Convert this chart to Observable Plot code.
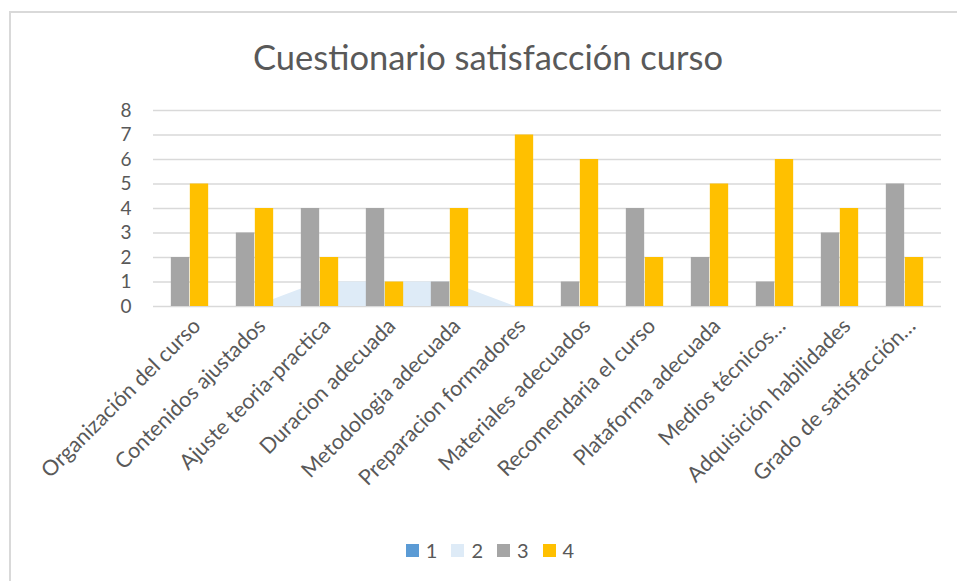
<!DOCTYPE html>
<html>
<head>
<meta charset="utf-8">
<script src="https://cdn.jsdelivr.net/npm/d3@7"></script>
<script src="https://cdn.jsdelivr.net/npm/@observablehq/plot@0.6"></script>
<style>
  body { margin: 0; background: #fff; }
  #wrap { position: relative; width: 957px; height: 581px; overflow: hidden; font-family: Lato, "Open Sans", sans-serif; color: #595959; }
  #frame { position: absolute; left: 9px; top: 11px; width: 980px; height: 620px; border-top: 2px solid #d9d9d9; border-left: 2px solid #d9d9d9; }
  #title { position: absolute; top: 36px; left: 0; width: 976px; text-align: center; font-size: 34.5px; line-height: 42px; }
  #chart { position: absolute; left: 0; top: 0; }
  #legend { position: absolute; top: 538px; left: 0; width: 980px; display: flex; justify-content: center; font-size: 20px; line-height: 24px; }
  .item { display: flex; align-items: center; margin: 0 7px; }
  .sw { width: 13px; height: 13px; margin-right: 7px; }
</style>
</head>
<body>
<div id="wrap">
  <div id="frame"></div>
  <div id="chart"></div>
  <div id="title">Cuestionario satisfacción curso</div>
  <div id="legend"></div>
</div>
<script>
const categories = [
  "Organización del curso",
  "Contenidos ajustados",
  "Ajuste teoria-practica",
  "Duracion adecuada",
  "Metodologia adecuada",
  "Preparacion formadores",
  "Materiales adecuados",
  "Recomendaria el curso",
  "Plataforma adecuada",
  "Medios técnicos…",
  "Adquisición habilidades",
  "Grado de satisfacción…"
];
const seriesNames = ["1", "2", "3", "4"];
const series1 = [0, 0, 0, 0, 0, 0, 0, 0, 0, 0, 0, 0];
const series2 = [0, 0, 1, 1, 1, 0, 0, 0, 0, 0, 0, 0];
const series3 = [2, 3, 4, 4, 1, 0, 1, 4, 2, 1, 3, 5];
const series4 = [5, 4, 2, 1, 4, 7, 6, 2, 5, 6, 4, 2];
const yTicks = [0, 1, 2, 3, 4, 5, 6, 7, 8];
const seriesColors = ["#5B9BD5", "#DEEBF7", "#A5A5A5", "#FFC000"];

const rows = (vals) => categories.map((c, i) => ({cat: c, v: vals[i]}));

const W = 957, ML = 153, MR = 16;
const bw = (W - ML - MR) / categories.length;
const barW = 19;

const chart = Plot.plot({
  width: W,
  height: 530,
  marginLeft: ML,
  marginRight: MR,
  marginTop: 110,
  marginBottom: 224,
  x: {type: "band", domain: categories, padding: 0, label: null},
  y: {domain: [0, 8], ticks: yTicks, label: null},
  style: {fontFamily: "Lato, 'Open Sans', sans-serif", color: "#595959", background: "transparent"},
  marks: [
    Plot.gridY(yTicks, {stroke: "#d9d9d9", strokeOpacity: 1, strokeWidth: 1.5}),
    Plot.areaY(rows(series1), {x: "cat", y: "v", fill: seriesColors[0]}),
    Plot.areaY(rows(series2), {x: "cat", y: "v", fill: seriesColors[1]}),
    Plot.barY(rows(series3), {x: "cat", y: "v", fill: seriesColors[2], insetLeft: bw / 2 - barW, insetRight: bw / 2}),
    Plot.barY(rows(series4), {x: "cat", y: "v", fill: seriesColors[3], insetLeft: bw / 2, insetRight: bw / 2 - barW}),
    Plot.axisY(yTicks, {tickSize: 0, tickPadding: 22, fontSize: 19, label: null}),
    Plot.axisX({tickSize: 0, tickRotate: -45, tickPadding: 16, dx: 7, fontSize: 21.5, label: null})
  ]
});
document.getElementById("chart").appendChild(chart);

const legend = document.getElementById("legend");
seriesNames.forEach((n, i) => {
  const it = document.createElement("div");
  it.className = "item";
  it.innerHTML = `<span class="sw" style="background:${seriesColors[i]}"></span><span>${n}</span>`;
  legend.appendChild(it);
});
</script>
</body>
</html>
